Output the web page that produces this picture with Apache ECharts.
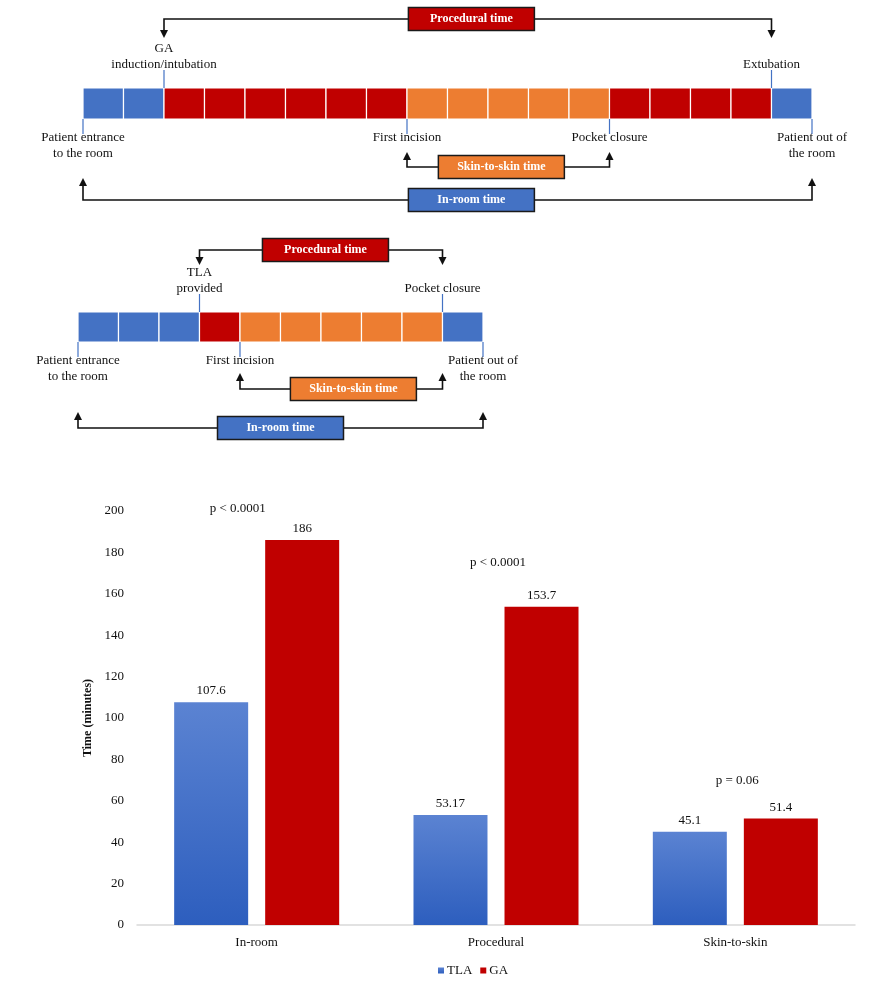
<!DOCTYPE html>
<html>
<head>
<meta charset="utf-8">
<script src="https://cdn.jsdelivr.net/npm/echarts@6/dist/echarts.min.js"></script>
<style>
  html, body { margin: 0; padding: 0; background: #fff; }
  #main { width: 884px; height: 992px; }
</style>
</head>
<body>
<div id="main"></div>
<script>
// timeline cells (one cell = one time unit)
const phaseColors = { room: '#4472c4', proc: '#c00000', skin: '#ed7d31' };

const gaPhases = ['room', 'proc', 'skin', 'proc', 'room'];
const gaRuns = [2, 6, 5, 4, 1];
const gaEventNames = ['Patient entrance\nto the room', 'GA\ninduction/intubation', 'First incision', 'Pocket closure', 'Extubation', 'Patient out of\nthe room'];
const gaEventAt = [0, 2, 8, 13, 17, 18];
const gaEventSide = [1, 0, 1, 1, 0, 1]; // 0 above, 1 below

const tlaPhases = ['room', 'proc', 'skin', 'room'];
const tlaRuns = [3, 1, 5, 1];
const tlaEventNames = ['Patient entrance\nto the room', 'TLA\nprovided', 'First incision', 'Pocket closure', 'Patient out of\nthe room'];
const tlaEventAt = [0, 3, 4, 9, 10];
const tlaEventSide = [1, 0, 1, 0, 1];

const spanNames = ['Procedural time', 'Skin-to-skin time', 'In-room time'];
const spanColors = ['#c00000', '#ed7d31', '#4472c4'];
const gaSpanFrom = [2, 8, 0];
const gaSpanTo = [17, 13, 18];
const tlaSpanFrom = [3, 4, 0];
const tlaSpanTo = [9, 9, 10];

// bar chart
const categories = ['In-room', 'Procedural', 'Skin-to-skin'];
const tlaTimes = [107.6, 53.17, 45.1];
const gaTimes = [186, 153.7, 51.4];
const pLabels = ['p < 0.0001', 'p < 0.0001', 'p = 0.06'];
const pLabelAt = [201, 175, 70];

const FONT = '"Liberation Serif", "Times New Roman", serif';

// layout of the two timelines (pixels)
const layouts = [
  { left: 83, top: 88, width: 729, height: 31, cells: 18, boxAt: [9.59, 10.33, 9.59], boxY: [-69, 48, 81], tipY: [-50, 33, 59] },
  { left: 78, top: 312, width: 405, height: 30, cells: 10, boxAt: [6.11, 6.8, 5.0], boxY: [-62, 47, 86], tipY: [-47, 31, 70] }
];

function buildCells(phases, runs) {
  const out = [];
  let pos = 0;
  phases.forEach((p, i) => {
    for (let k = 0; k < runs[i]; k++) {
      out.push({ value: [pos, pos + 1], phase: p });
      pos++;
    }
  });
  return out;
}

function timelineSeries(idx, phases, runs, evNames, evAt, evSide, spFrom, spTo) {
  const L = layouts[idx];
  const barTop = L.top;
  const barBottom = L.top + L.height;
  const cells = buildCells(phases, runs);

  const cellSeries = {
    type: 'custom',
    xAxisIndex: idx,
    yAxisIndex: idx,
    clip: false,
    silent: true,
    data: cells.map(c => c.value),
    renderItem: function (params, api) {
      const p0 = api.coord([api.value(0), 1]);
      const p1 = api.coord([api.value(1), 0]);
      return {
        type: 'rect',
        shape: { x: p0[0], y: p0[1], width: p1[0] - p0[0], height: p1[1] - p0[1] },
        style: { fill: phaseColors[cells[params.dataIndex].phase], stroke: '#fff', lineWidth: 1.2 }
      };
    }
  };

  const eventSeries = {
    type: 'custom',
    xAxisIndex: idx,
    yAxisIndex: idx,
    clip: false,
    silent: true,
    data: evAt.map((a, i) => [a, evSide[i]]),
    renderItem: function (params, api) {
      const x = api.coord([api.value(0), 0])[0];
      const below = api.value(1) === 1;
      const name = evNames[params.dataIndex];
      return {
        type: 'group',
        children: [
          {
            type: 'line',
            shape: below
              ? { x1: x, y1: barBottom, x2: x, y2: barBottom + 15 }
              : { x1: x, y1: barTop - 18, x2: x, y2: barTop },
            style: { stroke: '#4472c4', lineWidth: 1.2 }
          },
          {
            type: 'text',
            x: x,
            y: below ? barBottom + 11 : barTop - 15,
            style: {
              text: name,
              fill: '#111',
              font: '13px ' + FONT,
              align: 'center',
              verticalAlign: below ? 'top' : 'bottom',
              lineHeight: 16
            }
          }
        ]
      };
    }
  };

  const spanSeries = {
    type: 'custom',
    xAxisIndex: idx,
    yAxisIndex: idx,
    clip: false,
    silent: true,
    data: spFrom.map((f, i) => [f, spTo[i], i, L.boxAt[i]]),
    renderItem: function (params, api) {
      const row = api.value(2);
      const x0 = api.coord([api.value(0), 0])[0];
      const x1 = api.coord([api.value(1), 0])[0];
      const bx = api.coord([api.value(3), 0])[0];
      const up = row === 0;
      const cy = up ? barTop + L.boxY[row] : barBottom + L.boxY[row];
      const tip = up ? barTop + L.tipY[row] : barBottom + L.tipY[row];
      const bw = 126, bh = 23;
      function arrowHead(x) {
        const base = up ? tip - 8 : tip + 8;
        return {
          type: 'polygon',
          shape: { points: [[x - 4, base], [x + 4, base], [x, tip]] },
          style: { fill: '#111' }
        };
      }
      const endY = up ? tip - 6 : tip + 6;
      return {
        type: 'group',
        children: [
          {
            type: 'polyline',
            shape: { points: [[bx - bw / 2, cy], [x0, cy], [x0, endY]] },
            style: { stroke: '#111', lineWidth: 1.6, fill: null }
          },
          {
            type: 'polyline',
            shape: { points: [[bx + bw / 2, cy], [x1, cy], [x1, endY]] },
            style: { stroke: '#111', lineWidth: 1.6, fill: null }
          },
          arrowHead(x0),
          arrowHead(x1),
          {
            type: 'rect',
            shape: { x: bx - bw / 2, y: cy - bh / 2, width: bw, height: bh },
            style: { fill: spanColors[row], stroke: '#1a1a1a', lineWidth: 1.5 }
          },
          {
            type: 'text',
            x: bx,
            y: cy,
            style: {
              text: spanNames[row],
              fill: '#fff',
              font: 'bold 12px ' + FONT,
              align: 'center',
              verticalAlign: 'middle'
            }
          }
        ]
      };
    }
  };

  return [cellSeries, eventSeries, spanSeries];
}

const chart = echarts.init(document.getElementById('main'));

const option = {
  animation: false,
  backgroundColor: '#fff',
  textStyle: { fontFamily: FONT },
  grid: [
    { left: layouts[0].left, top: layouts[0].top, width: layouts[0].width, height: layouts[0].height },
    { left: layouts[1].left, top: layouts[1].top, width: layouts[1].width, height: layouts[1].height },
    { left: 137, right: 29, top: 511, bottom: 67 }
  ],
  xAxis: [
    { gridIndex: 0, type: 'value', min: 0, max: layouts[0].cells, show: false },
    { gridIndex: 1, type: 'value', min: 0, max: layouts[1].cells, show: false },
    {
      gridIndex: 2,
      type: 'category',
      data: categories,
      axisLine: { lineStyle: { color: '#d9d9d9', width: 1.5 } },
      axisTick: { show: false },
      axisLabel: { color: '#111', fontSize: 13, fontFamily: FONT, margin: 11 }
    }
  ],
  yAxis: [
    { gridIndex: 0, type: 'value', min: 0, max: 1, show: false },
    { gridIndex: 1, type: 'value', min: 0, max: 1, show: false },
    {
      gridIndex: 2,
      type: 'value',
      min: 0,
      max: 200,
      interval: 20,
      name: 'Time (minutes)',
      nameLocation: 'middle',
      nameGap: 33,
      nameTextStyle: { fontWeight: 'bold', fontSize: 12, color: '#111', fontFamily: FONT },
      axisLine: { show: false },
      axisTick: { show: false },
      splitLine: { show: false },
      axisLabel: { color: '#111', fontSize: 13, fontFamily: FONT, margin: 13 }
    }
  ],
  legend: {
    data: ['TLA', 'GA'],
    left: 433,
    top: 959,
    itemWidth: 6,
    itemHeight: 6,
    itemGap: 8,
    icon: 'rect',
    textStyle: { color: '#111', fontSize: 13, fontFamily: FONT, padding: [0, 0, 0, -2] }
  },
  series: [
    ...timelineSeries(0, gaPhases, gaRuns, gaEventNames, gaEventAt, gaEventSide, gaSpanFrom, gaSpanTo),
    ...timelineSeries(1, tlaPhases, tlaRuns, tlaEventNames, tlaEventAt, tlaEventSide, tlaSpanFrom, tlaSpanTo),
    {
      name: 'TLA',
      type: 'bar',
      xAxisIndex: 2,
      yAxisIndex: 2,
      data: tlaTimes,
      barWidth: 74,
      barGap: '23%',
      itemStyle: {
        color: new echarts.graphic.LinearGradient(0, 0, 0, 1, [
          { offset: 0, color: '#5b83d2' },
          { offset: 1, color: '#2d5ebe' }
        ])
      },
      label: { show: true, position: 'top', distance: 5, color: '#111', fontSize: 13, fontFamily: FONT }
    },
    {
      name: 'GA',
      type: 'bar',
      xAxisIndex: 2,
      yAxisIndex: 2,
      data: gaTimes,
      barWidth: 74,
      barGap: '23%',
      itemStyle: { color: '#c00000' },
      label: { show: true, position: 'top', distance: 5, color: '#111', fontSize: 13, fontFamily: FONT }
    },
    {
      name: 'p',
      type: 'scatter',
      xAxisIndex: 2,
      yAxisIndex: 2,
      clip: false,
      silent: true,
      symbolSize: 1,
      itemStyle: { color: 'rgba(0,0,0,0)', opacity: 1 },
      data: pLabelAt.map((v, i) => ({
        value: [i, v],
        label: { formatter: pLabels[i], offset: i === 0 ? [-19, 0] : [2, 0] }
      })),
      label: { show: true, position: 'inside', color: '#111', fontSize: 13, fontFamily: FONT, opacity: 1 }
    }
  ]
};

chart.setOption(option);
</script>
</body>
</html>
